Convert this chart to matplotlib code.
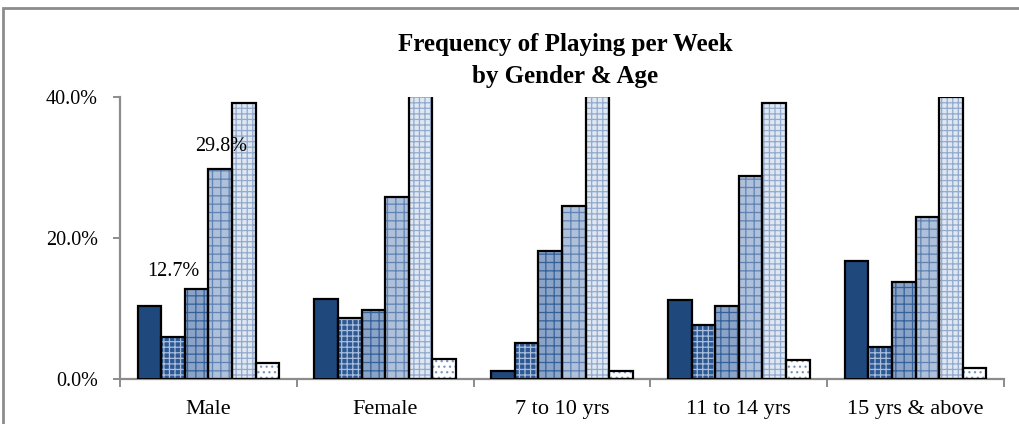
import numpy as np
import matplotlib
matplotlib.use("Agg")
import matplotlib.pyplot as plt
from matplotlib.patches import Rectangle

# Data (percent of respondents in each group)
categories = ["Male", "Female", "7 to 10 yrs", "11 to 14 yrs", "15 yrs & above"]
series_values = [
    [10.3, 11.3, 1.2, 11.2, 16.8],
    [5.9, 8.7, 5.1, 7.6, 4.6],
    [12.7, 9.8, 18.1, 10.3, 13.8],
    [29.8, 25.8, 24.6, 28.8, 23.0],
    [39.1, 41.6, 49.8, 39.1, 40.0],
    [2.2, 2.8, 1.2, 2.7, 1.5],
]
yticks = [0, 20, 40]
title_lines = ["Frequency of Playing per Week", "by Gender & Age"]

# fill / hatch styling per series
faces = ["#1F497D", "#2D5891", "#8AA3C7", "#AEC0DA", "#DFE7F2", "#FFFFFF"]
hatches = [None, "+++", "++", "++", "+++", "..."]
hatch_cols = [None, "#A9BEDC", "#34619A", "#5F83B4", "#92AACD", "#7A97C2"]

matplotlib.rcParams.update({"font.family": "Liberation Serif", "font.size": 14.5,
                            "hatch.linewidth": 0.9})

fig = plt.figure(figsize=(10.19, 4.24), dpi=100)
ax = fig.add_axes([120/1019, 1-379/424, (1004-120)/1019, (379-97)/424])

x = np.arange(len(categories))
n = len(series_values)
w = 0.8 / n
for i, vals in enumerate(series_values):
    pos = x + (i - (n - 1) / 2) * w
    if hatches[i]:
        ax.bar(pos, vals, w, color=faces[i], edgecolor=hatch_cols[i],
               linewidth=0, hatch=hatches[i], zorder=2)
    else:
        ax.bar(pos, vals, w, color=faces[i], linewidth=0, zorder=2)
    ax.bar(pos, vals, w, fill=False, edgecolor="black", linewidth=1.6, zorder=3)

# value labels on the Male group
ax.annotate("12.7%", (x[0] - 0.5 * w, series_values[2][0]), xytext=(-23, 18),
            textcoords="offset pixels", ha="center", va="center")
ax.annotate("29.8%", (x[0] + 0.5 * w, series_values[3][0]), xytext=(1, 22),
            textcoords="offset pixels", ha="center", va="center")

ax.set_ylim(0, 40)
ax.set_xlim(-0.5, len(categories) - 0.5)
ax.set_yticks(yticks)
ax.set_yticklabels([f"{v:.1f}%" for v in yticks])
ax.set_xticks(np.arange(len(categories) + 1) - 0.5)
ax.set_xticklabels([])
ax.set_xticks(x, minor=True)
ax.set_xticklabels(categories, minor=True, fontsize=16)

gray = "#8C8C8C"
for s in ["top", "right"]:
    ax.spines[s].set_visible(False)
for s in ["left", "bottom"]:
    ax.spines[s].set_color(gray)
    ax.spines[s].set_linewidth(1.6)
ax.tick_params(axis="y", length=5, width=1.4, color=gray, pad=11)
ax.tick_params(axis="x", which="major", length=6, width=1.4, color=gray)
ax.tick_params(axis="x", which="minor", length=0, pad=15)

for k, line in enumerate(title_lines):
    fig.text(565/1019, 1 - (45 + 32 * k)/424, line, ha="center", va="center",
             fontsize=18, fontweight="bold")

# chart border
fig.patches.append(Rectangle((3/1019, -0.1), 1.2, 1.1 - 8/424, transform=fig.transFigure,
                             fill=False, edgecolor=gray, linewidth=2))

fig.savefig("out.png", dpi=100)
